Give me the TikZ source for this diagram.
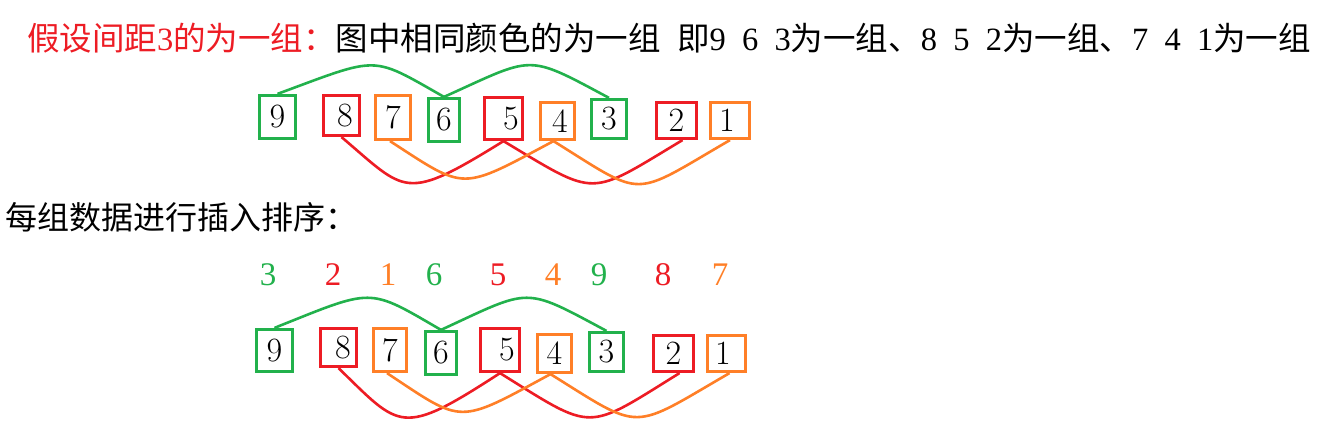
\documentclass[tikz,border=0pt]{standalone}
\usepackage{fontspec}
\newfontfamily\cjk{Noto Sans CJK SC}
\newfontfamily\ser{Liberation Serif}
\definecolor{tgreen}{HTML}{22B14C}
\definecolor{tred}{HTML}{ED1C24}
\definecolor{torange}{HTML}{FF7F27}
\newcommand{\hw}[1]{\makebox[0.5em]{\ser #1}}
\begin{document}
\begin{tikzpicture}[x=1pt,y=-1pt,
  numbox/.style={draw, line width=3.2pt, inner sep=0pt, font=\fontsize{34}{34}\selectfont},
  gbox/.style={numbox, draw=tgreen},
  rbox/.style={numbox, draw=tred},
  obox/.style={numbox, draw=torange},
  lab/.style={inner sep=0pt, font=\ser\fontsize{33}{33}\selectfont},
  link/.style={line width=2.6pt},
  sz/.style 2 args={minimum width=#1pt, minimum height=#2pt}]
\path[use as bounding box] (0,0) rectangle (1327,430);

% heading lines
\node[anchor=west, inner sep=0pt, font=\cjk\fontsize{32.5}{34}\selectfont] (t1) at (27,38)
  {{\color{tred}假设间距\hw{3}的为一组：}图中相同颜色的为一组\hw{}即\hw{9}\hw{}\hw{6}\hw{}\hw{3}为一组、\hw{8}\hw{}\hw{5}\hw{}\hw{2}为一组、\hw{7}\hw{}\hw{4}\hw{}\hw{1}为一组};
\node[anchor=west, inner sep=0pt, font=\cjk\fontsize{32}{34}\selectfont] (t2) at (5,217)
  {每组数据进行插入排序：};

% top row
\node[gbox, sz={36}{43}] (a9) at (277.5,117) {9};
\node[rbox, sz={36}{40}] (a8) at (341.5,115.5) {\hspace*{7pt}8};
\node[obox, sz={35}{44}] (a7) at (393,117.5) {7};
\node[gbox, sz={31}{43}] (a6) at (444,120) {6};
\node[rbox, sz={38}{42}] (a5) at (503.5,118.5) {\hspace*{15pt}5};
\node[obox, sz={34}{37}] (a4) at (557.5,121) {\hspace*{5pt}4};
\node[gbox, sz={35}{39}] (a3) at (609,119) {3};
\node[rbox, sz={40}{36}] (a2) at (676.5,120.5) {2};
\node[obox, sz={39}{36}] (a1) at (730,120.5) {1\hspace*{6pt}};

\draw[link, tgreen] (a9.north) .. controls +(103,-38) and +(-74,-42) .. (a6.north);
\draw[link, tgreen] (a6.north) .. controls +(91,-41) and +(-84,-45) .. (a3.north);
\draw[link, tred] (a8.south) .. controls +(65,55) and +(-100,62) .. (a5.south);
\draw[link, tred] (a5.south) .. controls +(95,57) and +(-95,57) .. ([xshift=6pt]a2.south);
\draw[link, torange] ([xshift=-3pt]a7.south) .. controls +(77,50) and +(-94,50) .. ([xshift=-4pt]a4.south);
\draw[link, torange] ([xshift=-4pt]a4.south) .. controls +(93,58) and +(-100,58) .. (a1.south);

% labels above bottom row
\node[lab, text=tgreen]  (l3) at (268,275) {3};
\node[lab, text=tred]    (l2) at (333,275) {2};
\node[lab, text=torange] (l1) at (388,275) {1};
\node[lab, text=tgreen]  (l6) at (434,275) {6};
\node[lab, text=tred]    (l5) at (498,275) {5};
\node[lab, text=torange] (l4) at (553,275) {4};
\node[lab, text=tgreen]  (l9) at (599,275) {9};
\node[lab, text=tred]    (l8) at (663,275) {8};
\node[lab, text=torange] (l7) at (720,275) {7};

% bottom row
\node[gbox, sz={36}{42}] (b9) at (274.5,350.5) {9};
\node[rbox, sz={36}{38}] (b8) at (338.5,347.5) {\hspace*{9pt}8};
\node[obox, sz={33}{43}] (b7) at (390,350) {7};
\node[gbox, sz={31}{43}] (b6) at (441,353) {6};
\node[rbox, sz={39}{43}] (b5) at (500,350) {\hspace*{14pt}5};
\node[obox, sz={34}{38}] (b4) at (554.5,353.5) {4};
\node[gbox, sz={34}{39}] (b3) at (606.5,352) {3};
\node[rbox, sz={40}{36}] (b2) at (673.5,353.5) {2};
\node[obox, sz={38}{36}] (b1) at (726.5,353.5) {1\hspace*{7pt}};

\draw[link, tgreen] (b9.north) .. controls +(100,-40) and +(-74,-43) .. (b6.north);
\draw[link, tgreen] (b6.north) .. controls +(91,-42) and +(-84,-45) .. (b3.north);
\draw[link, tred] (b8.south) .. controls +(62,60) and +(-100,65) .. (b5.south);
\draw[link, tred] (b5.south) .. controls +(95,59) and +(-95,59) .. ([xshift=6pt]b2.south);
\draw[link, torange] ([xshift=-3pt]b7.south) .. controls +(77,51) and +(-94,51) .. ([xshift=-4pt]b4.south);
\draw[link, torange] ([xshift=-4pt]b4.south) .. controls +(93,58) and +(-100,58) .. ([xshift=3pt]b1.south);
\end{tikzpicture}
\end{document}
